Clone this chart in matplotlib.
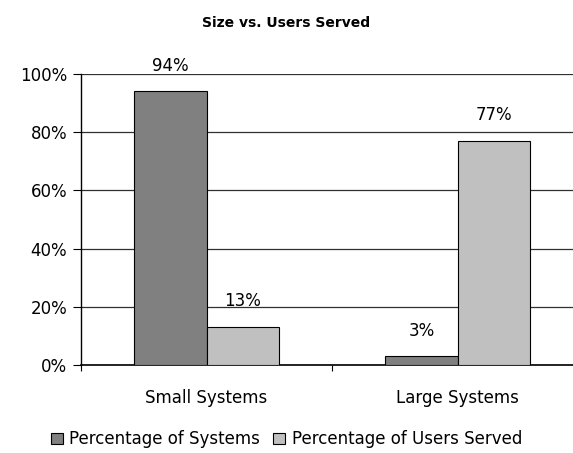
import numpy as np
import matplotlib.pyplot as plt

categories = ['Small Systems', 'Large Systems']
pct_systems = [94, 3]
pct_users = [13, 77]
series_names = ['Percentage of Systems', 'Percentage of Users Served']
colors = ['#808080', '#c0c0c0']

plt.rcParams['font.family'] = 'DejaVu Sans'

fig = plt.figure(figsize=(5.73, 4.53), dpi=100)
ax = fig.add_axes([0.1414, 0.1943, 0.8762, 0.6424])

x = np.arange(len(categories))
w = 0.288
bars1 = ax.bar(x - w / 2, pct_systems, w, color=colors[0], edgecolor='black',
               linewidth=0.8, label=series_names[0], zorder=3)
bars2 = ax.bar(x + w / 2, pct_users, w, color=colors[1], edgecolor='black',
               linewidth=0.8, label=series_names[1], zorder=3)

# value labels above each bar
for bars, vals in ((bars1, pct_systems), (bars2, pct_users)):
    for b, v in zip(bars, vals):
        ax.annotate(f'{v}%', (b.get_x() + b.get_width() / 2, v),
                    xytext=(0, 12), textcoords='offset points',
                    ha='center', va='bottom', fontsize=12, zorder=4)

ax.set_xlim(-0.5, 1.5)
ax.set_ylim(0, 100)
ax.set_yticks(range(0, 101, 20))
ax.set_yticklabels([f'{t}%' for t in range(0, 101, 20)], fontsize=12)
ax.yaxis.grid(True, color='#303030', linewidth=0.9, zorder=0)

# category separators as ticks
ax.set_xticks([-0.5, 0.5, 1.5])
ax.set_xticklabels([])
ax.set_xticks(x, minor=True)
ax.set_xticklabels(categories, minor=True, fontsize=12)
ax.tick_params(axis='x', which='minor', length=0, pad=17)
ax.tick_params(axis='x', which='major', length=4, direction='out')
ax.tick_params(axis='y', length=6, direction='out', pad=4)

for s in ('top', 'right'):
    ax.spines[s].set_visible(False)
ax.spines['left'].set_linewidth(1.0)
ax.spines['bottom'].set_linewidth(1.2)

fig.suptitle('Size vs. Users Served', fontsize=10, fontweight='bold', y=0.965)

fig.legend(loc='center', bbox_to_anchor=(0.5, 0.03), ncol=2, frameon=False,
           fontsize=12, handlelength=0.7, handleheight=0.7, handletextpad=0.4,
           columnspacing=0.8)

fig.savefig('out.png', dpi=100)
